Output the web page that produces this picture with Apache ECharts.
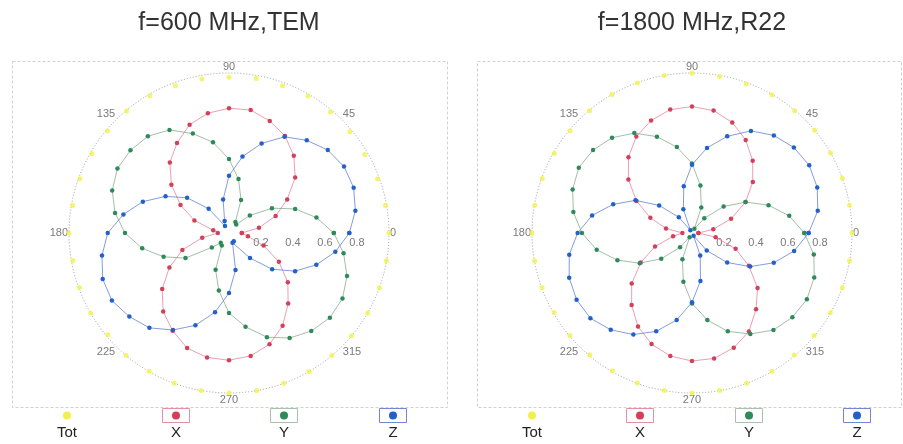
<!DOCTYPE html>
<html>
<head>
<meta charset="utf-8">
<script src="https://cdn.jsdelivr.net/npm/echarts@6/dist/echarts.min.js"></script>
<style>
html,body{margin:0;padding:0;background:#fff;}
#chart{width:903px;height:444px;}
</style>
</head>
<body>
<div id="chart"></div>
<script>
// ---- data (angles in degrees, radii normalised to 1) ----
const angles = [0,10,20,30,40,50,60,70,80,90,100,110,120,130,140,150,160,170,
                180,190,200,210,220,230,240,250,260,270,280,290,300,310,320,330,340,350];
const titles = ['f=600 MHz,TEM', 'f=1800 MHz,R22'];
const seriesNames = ['Tot', 'X', 'Y', 'Z'];
const angleTickLabels = [0, 45, 90, 135, 180, 225, 270, 315];
const radiusTickLabels = [0.2, 0.4, 0.6, 0.8];

// f=600 MHz, TEM
const temTot = [1.0,0.993,0.988,0.98,0.985,0.987,0.989,0.979,0.98,0.974,0.977,0.98,0.99,0.996,0.992,0.99,0.992,0.992,
                1.0,0.991,0.995,0.999,0.989,1.0,0.997,1.0,1.0,1.0,1.0,1.0,1.0,1.0,1.0,1.0,1.0,0.999];
const temX = [0.08,0.19,0.31,0.42,0.54,0.63,0.70,0.745,0.78,0.78,0.76,0.72,0.65,0.575,0.47,0.35,0.23,0.10,
              0.07,0.17,0.31,0.43,0.545,0.64,0.705,0.765,0.79,0.795,0.78,0.74,0.67,0.575,0.48,0.36,0.23,0.12];
const temY = [0.655,0.555,0.44,0.31,0.17,0.07,0.08,0.22,0.342,0.462,0.576,0.661,0.744,0.789,0.804,0.805,0.777,0.723,
              0.65,0.551,0.435,0.314,0.14,0.08,0.09,0.245,0.365,0.50,0.595,0.693,0.758,0.80,0.823,0.819,0.785,0.727];
const temZ = [0.752,0.802,0.829,0.83,0.806,0.756,0.694,0.596,0.485,0.358,0.212,0.08,0.05,0.198,0.342,0.458,0.573,0.67,
              0.758,0.806,0.84,0.845,0.813,0.774,0.70,0.614,0.503,0.375,0.235,0.065,0.06,0.204,0.352,0.477,0.581,0.675];

// f=1800 MHz, R22
const r22Tot = [1.0,1.0,1.0,1.0,1.0,0.998,0.997,0.991,0.993,0.998,0.999,0.998,1.0,0.997,0.995,0.994,0.996,0.998,
                1.0,0.999,0.997,0.995,0.996,0.994,0.995,0.998,1.0,1.0,1.0,0.999,0.997,0.995,0.996,0.998,1.0,1.0];
const r22X = [0.04,0.135,0.26,0.386,0.496,0.59,0.671,0.735,0.777,0.79,0.783,0.748,0.696,0.618,0.519,0.40,0.277,0.165,
              0.06,0.12,0.246,0.37,0.492,0.587,0.675,0.739,0.781,0.80,0.796,0.763,0.711,0.623,0.535,0.41,0.29,0.15];
const r22Y = [0.702,0.617,0.509,0.386,0.258,0.12,0.03,0.17,0.302,0.435,0.545,0.641,0.721,0.777,0.807,0.817,0.794,0.753,
              0.688,0.605,0.496,0.377,0.251,0.116,0.03,0.175,0.31,0.44,0.552,0.654,0.729,0.792,0.819,0.829,0.813,0.773];
const r22Z = [0.729,0.798,0.833,0.846,0.831,0.796,0.737,0.643,0.54,0.427,0.296,0.158,0.02,0.128,0.268,0.408,0.524,0.634,
              0.715,0.779,0.817,0.833,0.829,0.79,0.733,0.654,0.552,0.433,0.304,0.15,0.02,0.143,0.287,0.42,0.544,0.648];

// ---- styling ----
const dotColors = {Tot:'#f4f04a', X:'#d2405a', Y:'#2f8a5a', Z:'#2260cc'};
const lineColors = {X:'rgba(228,120,145,0.8)', Y:'rgba(125,165,135,0.8)', Z:'rgba(85,115,210,0.8)'};
const boxColors = {X:'#e690a6', Y:'#a9c2ad', Z:'#7386d6'};
const charts = [
  {cx:229, cy:233, data:[temTot,temX,temY,temZ], frame:[12,61,435,346], legendX:[67,176,284,393]},
  {cx:692, cy:233, data:[r22Tot,r22X,r22Y,r22Z], frame:[477,61,424,346], legendX:[532,640,749,857]}
];
const R = 160;

function polarPoints(vals, close){
  const d = angles.map((a,i)=>[vals[i], a]);
  if (close) d.push([vals[0], 360]);
  return d;
}

const polar = [], angleAxis = [], radiusAxis = [], series = [], graphic = [];
charts.forEach((c, pi) => {
  polar.push({center:[c.cx, c.cy], radius:R});
  angleAxis.push({
    polarIndex:pi, type:'value', min:0, max:360, interval:45, startAngle:0, clockwise:false,
    axisLine:{show:true, lineStyle:{color:'#9c9c9c', width:1, type:[1,2]}},
    axisTick:{show:false}, splitLine:{show:false},
    axisLabel:{show:true, margin:1, color:'#7a7a7a', fontSize:11, fontFamily:'Liberation Sans, Arial, sans-serif',
      formatter: v => angleTickLabels.indexOf(v) >= 0 ? String(v) : ''}
  });
  radiusAxis.push({
    polarIndex:pi, type:'value', min:0, max:1, interval:0.2,
    axisLine:{show:false}, axisTick:{show:false}, splitLine:{show:false},
    axisLabel:{show:true, margin:-4, verticalAlign:'top', color:'#7a7a7a', fontSize:11,
      fontFamily:'Liberation Sans, Arial, sans-serif',
      formatter: v => {
        const m = radiusTickLabels.find(t => Math.abs(t - v) < 1e-6);
        return m === undefined ? '' : m.toFixed(1);
      }}
  });
  seriesNames.forEach((nm, si) => {
    if (nm === 'Tot') {
      series.push({type:'scatter', coordinateSystem:'polar', polarIndex:pi, name:nm,
        data: polarPoints(c.data[si], false), symbol:'circle', symbolSize:5,
        itemStyle:{color:dotColors[nm]}, silent:true, z:2});
    } else {
      series.push({type:'line', coordinateSystem:'polar', polarIndex:pi, name:nm,
        data: polarPoints(c.data[si], true), symbol:'circle', symbolSize:4.5, showSymbol:true,
        lineStyle:{color:lineColors[nm], width:0.9}, itemStyle:{color:dotColors[nm], borderWidth:0},
        animation:false, silent:true, z:3 + si});
    }
  });
  // title
  graphic.push({type:'text', x:c.cx, y:23, style:{text:titles[pi], fill:'#333', font:'25px "Liberation Sans", Arial, sans-serif',
    textAlign:'center', textVerticalAlign:'middle'}});
  // frame
  const f = c.frame;
  graphic.push({type:'rect', shape:{x:f[0]+0.5, y:f[1]+0.5, width:f[2], height:f[3]},
    style:{fill:null, stroke:'#d0d0d0', lineWidth:1, lineDash:[3,2]}, z:-1});
  // legend
  seriesNames.forEach((nm, si) => {
    const lx = c.legendX[si];
    if (nm !== 'Tot') {
      graphic.push({type:'rect', shape:{x:lx-13.5, y:408.5, width:27, height:14},
        style:{fill:'#fff', stroke:boxColors[nm], lineWidth:1}});
    }
    graphic.push({type:'circle', shape:{cx:lx, cy:415.5, r:4}, style:{fill:dotColors[nm]}});
    graphic.push({type:'text', x:lx, y:432.5, style:{text:nm, fill:'#222', font:'15px "Liberation Sans", Arial, sans-serif',
      textAlign:'center', textVerticalAlign:'middle'}});
  });
});

const chart = echarts.init(document.getElementById('chart'), null, {renderer:'canvas'});
chart.setOption({
  backgroundColor:'#ffffff',
  animation:false,
  polar, angleAxis, radiusAxis, series, graphic
});
</script>
</body>
</html>
